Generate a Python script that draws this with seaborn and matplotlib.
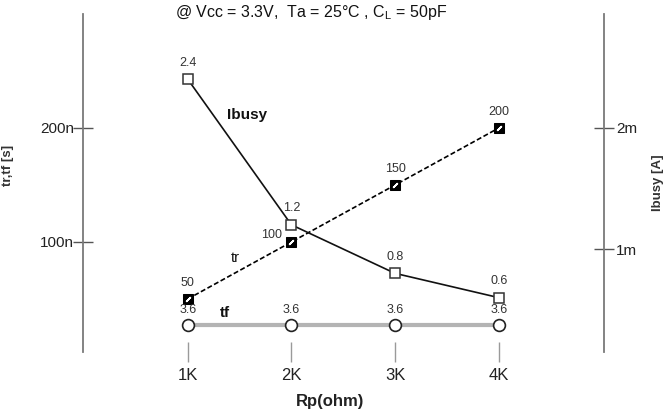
import numpy as np
import pandas as pd
import seaborn as sns
import matplotlib.pyplot as plt

# ── Data ──────────────────────────────────────────────────────────────────────
rp_k        = [1, 2, 3, 4]                  # Rp in kOhm
rp_labels   = ["1K", "2K", "3K", "4K"]
tr_ns       = [50, 100, 150, 200]           # rise time [ns]
tf_ns       = [3.6, 3.6, 3.6, 3.6]          # fall time [ns]
ibusy_ma    = [2.4, 1.2, 0.8, 0.6]          # Ibusy [mA]
left_ticks  = [100, 200]
left_labels = ["100n", "200n"]
right_ticks = [1, 2]
right_labels = ["1m", "2m"]

df = pd.DataFrame({"rp": rp_k, "tr": tr_ns, "tf": tf_ns, "ibusy": ibusy_ma})

sns.set_style("white")
plt.rcParams["font.family"] = ["Liberation Sans", "DejaVu Sans"]

W, H = 666, 417
fig = plt.figure(figsize=(W / 100, H / 100), dpi=100)
ax = fig.add_axes([83 / W, 1 - 352 / H, (604 - 83) / W, (352 - 14) / H])
ax_r = ax.twinx()
ax_tf = ax.twinx()

spine_c = "#7a7a7a"
txt_c = "#333333"

# ── tf row (own hidden scale) ─────────────────────────────────────────────────
sns.lineplot(data=df, x="rp", y="tf", ax=ax_tf, color="#b4b4b4", lw=3,
             marker="o", markersize=8.5, markerfacecolor="white",
             markeredgecolor="#222222", markeredgewidth=1.2, zorder=2)
ax_tf.set_ylim(0, 45)

# ── tr ────────────────────────────────────────────────────────────────────────
sns.lineplot(data=df, x="rp", y="tr", ax=ax, color="black", lw=1.2,
             linestyle=(0, (3, 1.5)), marker="s", markersize=7,
             markerfacecolor="black", markeredgecolor="black", zorder=3)
ax.plot(df["rp"], df["tr"], linestyle="none", marker=(2, 2, -45),
        markersize=4.5, markeredgecolor="white", markeredgewidth=1.2, zorder=4)
ax.set_xlim(-0.01, 5.015)
ax.set_ylim(3.5, 300)

# ── Ibusy ─────────────────────────────────────────────────────────────────────
sns.lineplot(data=df, x="rp", y="ibusy", ax=ax_r, color="#111111", lw=1.2,
             marker="s", markersize=7, markerfacecolor="white",
             markeredgecolor="#333333", markeredgewidth=1.1, zorder=3)
ax_r.set_ylim(0.152, 2.937)

# ── value labels ──────────────────────────────────────────────────────────────
for x, v in zip(rp_k, ibusy_ma):
    ax_r.annotate(f"{v:g}", (x, v), xytext=(0, 7.5), textcoords="offset points",
                  ha="center", va="bottom", fontsize=9, color=txt_c)
tr_off = [(0, 7.5), (-14, 1), (0, 7.5), (0, 7.5)]
for (x, v), off in zip(zip(rp_k, tr_ns), tr_off):
    ax.annotate(f"{v:g}", (x, v), xytext=off, textcoords="offset points",
                ha="center", va="bottom", fontsize=9, color=txt_c)
for x, v in zip(rp_k, tf_ns):
    ax_tf.annotate(f"{v:g}", (x, v), xytext=(0, 6.5), textcoords="offset points",
                   ha="center", va="bottom", fontsize=9, color=txt_c)

# series names
ax.text((247 - 83) / 521, (352 - 115) / 338, "Ibusy", transform=ax.transAxes,
        ha="center", va="center", fontsize=11, fontweight="bold", color="#111111")
ax.text((235 - 83) / 521, (352 - 258) / 338, "tr", transform=ax.transAxes,
        ha="center", va="center", fontsize=10.5, color="#111111")
ax.text((225 - 83) / 521, (352 - 313) / 338, "tf", transform=ax.transAxes,
        ha="center", va="center", fontsize=11, fontweight="bold", color="#111111")

# ── axes styling ──────────────────────────────────────────────────────────────
for a in (ax, ax_r, ax_tf):
    for s in a.spines.values():
        s.set_visible(False)
    a.set_ylabel("")
    a.set_xlabel("")
    a.grid(False)
ax_tf.set_yticks([])

ax.spines["left"].set_visible(True)
ax.spines["left"].set_color(spine_c)
ax.spines["left"].set_linewidth(1.3)
ax_r.spines["right"].set_visible(True)
ax_r.spines["right"].set_color(spine_c)
ax_r.spines["right"].set_linewidth(1.3)

ax.set_yticks(left_ticks)
ax.set_yticklabels(left_labels)
ax.tick_params(axis="y", direction="inout", length=15, width=1, color="#555555",
               pad=-1, labelsize=11, labelcolor="#222222", left=True)
ax_r.set_yticks(right_ticks)
ax_r.set_yticklabels(right_labels)
ax_r.tick_params(axis="y", direction="inout", length=15, width=1, color="#555555",
                 pad=1, labelsize=11, labelcolor="#222222", right=True)

ax.set_xticks(rp_k)
ax.set_xticklabels(rp_labels)
ax.tick_params(axis="x", direction="inout", length=14.5, width=1, color="#9a9a9a",
               pad=4, labelsize=12, labelcolor="#222222", bottom=True)

ax.set_xlabel("Rp(ohm)", fontsize=12, fontweight="bold", color="#222222")
ax.xaxis.set_label_coords((330 - 83) / 521, (352 - 394) / 338)
ax.set_ylabel("tr,tf [s]", fontsize=9.5, fontweight="bold", color="#333333")
ax.yaxis.set_label_coords((14 - 83) / 521, (352 - 165) / 338)
ax_r.set_ylabel("Ibusy [A]", fontsize=9.5, fontweight="bold", color="#333333",
                rotation=90)
ax_r.yaxis.set_label_coords((652 - 83) / 521, (352 - 183) / 338)

fig.text(311 / W, 1 - 12 / H,
         r"@ Vcc = 3.3V,  Ta = 25°C , C$_\mathregular{L}$ = 50pF",
         ha="center", va="center", fontsize=11.5, color="#111111")

fig.savefig("out.png", dpi=100)
